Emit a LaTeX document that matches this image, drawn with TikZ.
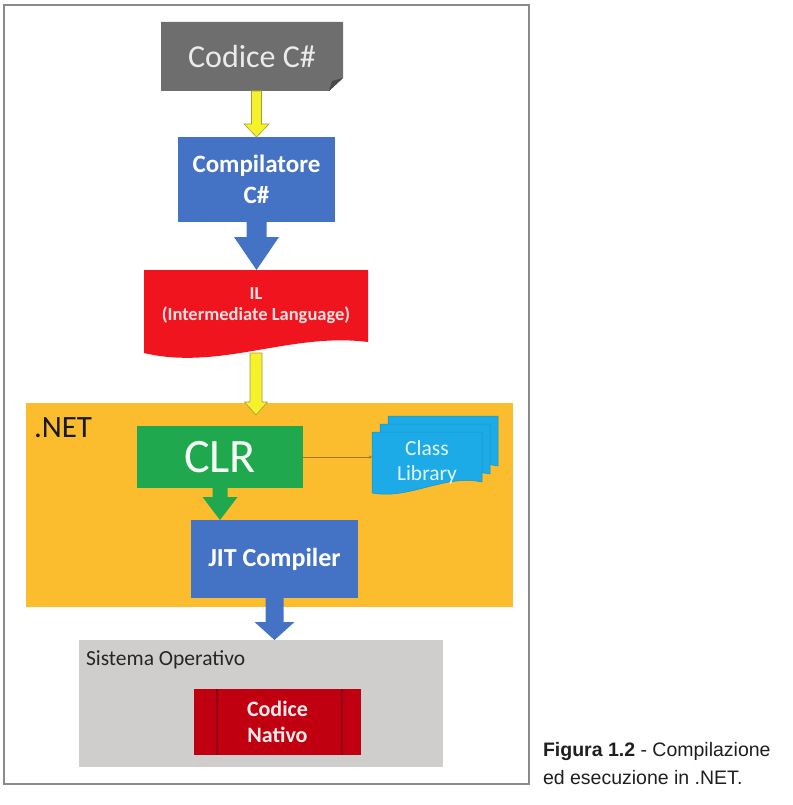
\documentclass[tikz,border=0pt]{standalone}
\usepackage{fontspec}
\setmainfont{Carlito}
\newfontfamily\capfont{Liberation Sans}
\usetikzlibrary{arrows.meta,calc}
\definecolor{framegray}{HTML}{8A8A8A}
\definecolor{codegray}{HTML}{6E6E6E}
\definecolor{folddark}{HTML}{4A4A4A}
\definecolor{arryellow}{HTML}{F5F22C}
\definecolor{arrline}{HTML}{A89A3C}
\definecolor{boxblue}{HTML}{4472C4}
\definecolor{ilred}{HTML}{F0141E}
\definecolor{netorange}{HTML}{FBBD2E}
\definecolor{clrgreen}{HTML}{1FA84E}
\definecolor{libblue}{HTML}{1CABE6}
\definecolor{libline}{HTML}{1592CC}
\definecolor{sogray}{HTML}{D0CECD}
\definecolor{natred}{HTML}{C00010}
\definecolor{natline}{HTML}{8E0018}
\definecolor{connbrown}{HTML}{A07820}
\newcommand\blockarrow[6]{%
  \path[#1] let \p1=(#2), \p2=(#3) in
    (\x1-#4,\y1) -- (\x1-#4,\y2+#6) -- (\x1-#5,\y2+#6) -- (\x1,\y2)
    -- (\x1+#5,\y2+#6) -- (\x1+#4,\y2+#6) -- (\x1+#4,\y1) -- cycle;}
\newcommand\libdoc[2]{%
  \path[libdocshape] (#1,#2) -- (#1+110,#2) -- (#1+110,#2+50)
    .. controls (#1+72,#2+42) and (#1+38,#2+68) .. (#1,#2+61) -- cycle;}
\tikzset{
  box/.style={outer sep=0pt, inner sep=0pt, align=center},
  yarrow/.style={fill=arryellow, draw=arrline, line width=0.6pt},
  barrow/.style={fill=boxblue},
  garrow/.style={fill=clrgreen},
  libdocshape/.style={fill=libblue, draw=libline, line width=0.5pt},
}
\begin{document}
\begin{tikzpicture}[x=1pt,y=-1pt]
\useasboundingbox (0,0) rectangle (792,805);
\fill[white] (0,0) rectangle (792,805);
% frame
\node[box, draw=framegray, line width=1.2pt, minimum width=525pt, minimum height=779pt, anchor=north west] (frame) at (4,5) {};
% Codice C#
\fill[codegray] (161,22) -- (343,22) -- (343,78) -- (329,91) -- (161,91) -- cycle;
\fill[folddark] (329,91) -- (332,81) -- (343,78) -- cycle;
\node[box, minimum width=182pt, minimum height=69pt, text=white!92!black, font=\fontsize{32}{38}\selectfont] (code) at (252,56.5) {Codice C\#};
% Compilatore
\node[box, fill=boxblue, minimum width=157pt, minimum height=85pt, text=white, font=\bfseries\fontsize{25}{31}\selectfont] (comp) at (256.5,179.5) {Compilatore\\C\#};
% IL document
\fill[ilred] (144,270) -- (368,270) -- (368,342) .. controls (290,332) and (220,371) .. (144,353) -- cycle;
\node[box, minimum width=224pt, minimum height=83pt] (il) at (256,311.5) {};
\node[box, text=red!12!white, font=\bfseries\fontsize{18.5}{21}\selectfont] (iltext) at (256,305.5) {IL\\(Intermediate Language)};
% .NET
\node[box, fill=netorange, minimum width=487pt, minimum height=204pt, anchor=north west] (dotnet) at (26,403) {};
\node[box, anchor=base west, text=black!90, font=\fontsize{31}{36}\selectfont] (netlabel) at (34,437) {.NET};
\node[box, fill=clrgreen, minimum width=166pt, minimum height=62pt, text=green!4!white, font=\fontsize{48}{56}\selectfont] (clr) at (220,457) {CLR};
% Class Library
\libdoc{388}{416}
\libdoc{380}{424}
\libdoc{372}{432}
\node[box, minimum width=110pt, minimum height=61pt, text=cyan!10!white, font=\fontsize{21.5}{25}\selectfont] (lib) at (427,462.5) {Class\\Library};
\draw[connbrown, line width=0.7pt, -{Stealth[length=3pt,width=3pt]}] (clr.east) -- (clr.east -| lib.west);
% JIT
\node[box, fill=boxblue, minimum width=167pt, minimum height=78pt, text=white, font=\bfseries\fontsize{26}{30}\selectfont] (jit) at (274.5,559) {JIT Compiler};
% Sistema Operativo
\node[box, fill=sogray, minimum width=364pt, minimum height=127pt] (so) at (261,703.5) {};
\node[box, anchor=base west, text=black!85, font=\fontsize{21.5}{25}\selectfont] (solabel) at (86,665) {Sistema Operativo};
\node[box, fill=natred, minimum width=167pt, minimum height=66pt, text=red!8!white, font=\bfseries\fontsize{22}{26}\selectfont] (nat) at (277.5,722) {Codice\\Nativo};
\draw[natline, line width=1.5pt] (217,689) -- (217,755) (342,689) -- (342,755);
% arrows
\coordinate (ytip) at (257,415);
\blockarrow{yarrow}{comp.north |- code.south}{comp.north}{5pt}{12.5pt}{13pt}
\blockarrow{barrow}{comp.south}{il.north}{10pt}{22.5pt}{33pt}
\blockarrow{yarrow}{il.south}{ytip}{6pt}{11.5pt}{13pt}
\blockarrow{garrow}{clr.south}{clr.south |- jit.north}{7.5pt}{17.5pt}{23pt}
\blockarrow{barrow}{jit.south}{jit.south |- so.north}{9pt}{20pt}{18pt}
% caption
\node[box, anchor=base west, text=black!88, font=\capfont\fontsize{19.5}{24}\selectfont] (cap1) at (543,756) {\textbf{Figura 1.2} - Compilazione};
\node[box, anchor=base west, text=black!88, font=\capfont\fontsize{19.5}{24}\selectfont] (cap2) at (543,784) {ed esecuzione in .NET.};
\end{tikzpicture}
\end{document}
